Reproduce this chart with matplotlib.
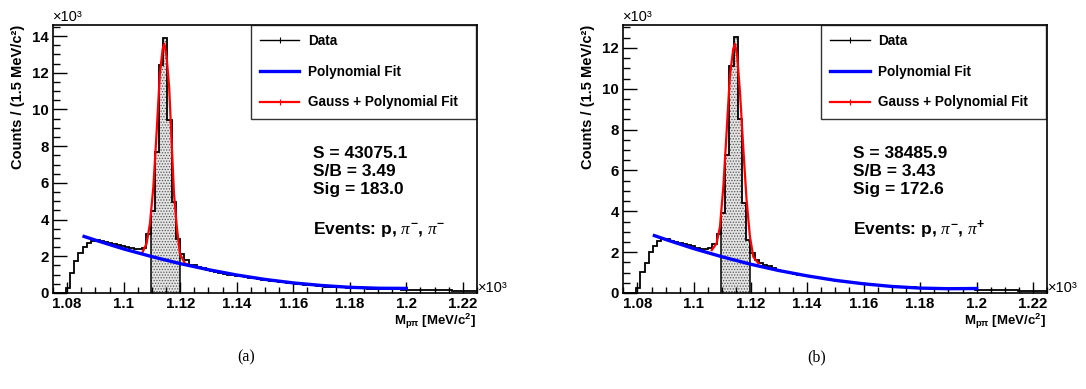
import matplotlib
matplotlib.use("Agg")
import matplotlib.pyplot as plt
from matplotlib.ticker import MultipleLocator, FuncFormatter
from matplotlib.lines import Line2D
import numpy as np

# Histogram binning (x in units of 10^3 MeV/c^2)
x_lo = 1.075
bin_w = 0.0015
n_bins = 100
sig_first, sig_last = 23, 29   # shaded signal bins

# Counts per bin (units of 10^3) -- panel (a): p, pi-, pi-
counts_a = [
    0, 0, 0, 0.25, 1.10, 1.75, 2.20, 2.50, 2.75, 2.85,
    2.90, 2.85, 2.80, 2.72, 2.65, 2.60, 2.55, 2.50, 2.45, 2.42,
    2.40, 2.45, 3.20, 4.45, 7.70, 12.40, 13.90, 9.45, 4.95, 2.95,
    2.15, 1.78, 1.55, 1.50, 1.42, 1.35, 1.28, 1.20, 1.15, 1.10,
    1.05, 1.00, 0.97, 0.93, 0.90, 0.86, 0.83, 0.80, 0.76, 0.73,
    0.70, 0.67, 0.64, 0.60, 0.58, 0.55, 0.52, 0.50, 0.47, 0.45,
    0.43, 0.41, 0.39, 0.37, 0.35, 0.34, 0.32, 0.31, 0.30, 0.29,
    0.28, 0.27, 0.26, 0.25, 0.24, 0.24, 0.23, 0.22, 0.22, 0.21,
    0.20, 0.20, 0.19, 0.19, 0.18, 0.18, 0.17, 0.17, 0.16, 0.16,
    0.15, 0.15, 0.14, 0.14, 0.13, 0.13, 0.12, 0.12, 0.11, 0.11,
]

# panel (b): p, pi-, pi+
counts_b = [
    0, 0, 0, 0.26, 1.04, 1.49, 2.00, 2.28, 2.53, 2.64,
    2.64, 2.56, 2.48, 2.45, 2.40, 2.35, 2.30, 2.22, 2.15, 2.15,
    2.20, 2.40, 2.90, 3.94, 6.78, 11.13, 12.53, 8.54, 4.43, 2.60,
    1.94, 1.61, 1.45, 1.38, 1.30, 1.22, 1.15, 1.10, 1.05, 1.00,
    0.95, 0.90, 0.87, 0.83, 0.80, 0.77, 0.74, 0.70, 0.67, 0.64,
    0.61, 0.58, 0.55, 0.53, 0.50, 0.48, 0.46, 0.44, 0.42, 0.40,
    0.38, 0.36, 0.34, 0.33, 0.31, 0.30, 0.29, 0.28, 0.27, 0.26,
    0.25, 0.24, 0.23, 0.23, 0.22, 0.21, 0.21, 0.20, 0.20, 0.19,
    0.19, 0.18, 0.18, 0.17, 0.17, 0.16, 0.16, 0.15, 0.15, 0.14,
    0.14, 0.13, 0.13, 0.12, 0.12, 0.11, 0.11, 0.10, 0.10, 0.10,
]

# Polynomial (background) fit
poly_x = [1.086, 1.09, 1.10, 1.11, 1.12, 1.13, 1.14, 1.15, 1.16, 1.17, 1.18, 1.19, 1.20]
poly_a = [3.08, 2.88, 2.40, 1.98, 1.60, 1.27, 0.98, 0.74, 0.55, 0.41, 0.31, 0.26, 0.25]
poly_b = [2.81, 2.62, 2.17, 1.77, 1.41, 1.10, 0.84, 0.62, 0.45, 0.32, 0.24, 0.21, 0.22]

# Gauss + polynomial fit
gaus_x_a = [1.1067, 1.1081, 1.1093, 1.1105, 1.1117, 1.1128, 1.1138, 1.1144, 1.1152,
            1.1161, 1.1170, 1.1178, 1.1188, 1.1199, 1.1217, 1.1229]
gaus_y_a = [2.23, 2.69, 3.78, 5.77, 8.86, 11.94, 13.30, 13.58, 12.85,
            11.20, 8.13, 5.41, 3.60, 2.14, 1.60, 1.55]
gaus_x_b = [1.1063, 1.1080, 1.1092, 1.1104, 1.1116, 1.1127, 1.1139, 1.1145, 1.1153,
            1.1163, 1.1174, 1.1186, 1.1198, 1.1210, 1.1228]
gaus_y_b = [2.10, 2.43, 3.25, 5.22, 8.00, 10.60, 11.95, 12.20, 11.60,
            9.80, 7.20, 4.57, 2.76, 1.77, 1.45]

panels = [
    dict(counts=counts_a, poly=poly_a, gx=gaus_x_a, gy=gaus_y_a, ymax=14.6,
         stats=["S = 43075.1", "S/B = 3.49", "Sig = 183.0"],
         events=r"Events: p, $\mathit{\pi}^{-}$, $\mathit{\pi}^{-}$", tag="(a)", text_x=313),
    dict(counts=counts_b, poly=poly_b, gx=gaus_x_b, gy=gaus_y_b, ymax=13.12,
         stats=["S = 38485.9", "S/B = 3.43", "Sig = 172.6"],
         events=r"Events: p, $\mathit{\pi}^{-}$, $\mathit{\pi}^{+}$", tag="(b)", text_x=283),
]

plt.rcParams['font.family'] = ['Liberation Sans', 'DejaVu Sans']
plt.rcParams['mathtext.fontset'] = 'custom'
plt.rcParams['mathtext.rm'] = 'Liberation Sans:bold'
plt.rcParams['mathtext.it'] = 'Liberation Serif:italic'
plt.rcParams['mathtext.bf'] = 'Liberation Sans:bold'
plt.rcParams['mathtext.default'] = 'rm'
plt.rcParams['hatch.linewidth'] = 0.6

W, H = 1086, 389
fig = plt.figure(figsize=(W / 100, H / 100), dpi=100)

edges = x_lo + bin_w * np.arange(n_bins + 1)
ax_left = [53, 623.3]

for i, p in enumerate(panels):
    x0 = ax_left[i]
    ax = fig.add_axes([x0 / W, 96 / H, 424 / W, 268 / H])
    counts = np.array(p['counts'])

    # shaded signal window
    ax.stairs(counts[sig_first:sig_last + 1], edges[sig_first:sig_last + 2], fill=True,
              facecolor='#e4e4e4', edgecolor='#555555', hatch='......', linewidth=0, zorder=1)
    ax.vlines([edges[sig_first], edges[sig_last + 1]], 0,
              [counts[sig_first], counts[sig_last]], color='black', lw=1.1, zorder=2)
    ax.stairs(counts, edges, color='black', lw=1.3, zorder=3)
    ax.plot(p['gx'], p['gy'], color='red', lw=1.6, zorder=4)
    ax.plot(poly_x, p['poly'], color='blue', lw=2.4, zorder=5)

    ax.set_xlim(x_lo, x_lo + n_bins * bin_w)
    ax.set_ylim(0, p['ymax'])
    ax.xaxis.set_major_locator(MultipleLocator(0.02))
    ax.xaxis.set_minor_locator(MultipleLocator(0.005))
    ax.yaxis.set_major_locator(MultipleLocator(2))
    ax.yaxis.set_minor_locator(MultipleLocator(0.5))
    ax.xaxis.set_major_formatter(FuncFormatter(lambda v, pos: f"{v:.2f}".rstrip('0').rstrip('.')))
    ax.yaxis.set_major_formatter(FuncFormatter(lambda v, pos: f"{v:.0f}"))
    ax.tick_params(which='both', direction='in', top=False, right=False)
    ax.tick_params(which='major', axis='y', length=10, width=1)
    ax.tick_params(which='minor', axis='y', length=5, width=1)
    ax.tick_params(which='major', axis='x', length=8, width=1)
    ax.tick_params(which='minor', axis='x', length=4, width=1)
    ax.tick_params(labelsize=10.8, pad=3)
    for lab in ax.get_xticklabels() + ax.get_yticklabels():
        lab.set_fontweight('bold')
    for s in ax.spines.values():
        s.set_linewidth(1.2)

    handles = [
        Line2D([], [], color='black', lw=1, marker='|', markersize=4, markeredgewidth=0.8),
        Line2D([], [], color='blue', lw=2.4),
        Line2D([], [], color='red', lw=1.6, marker='|', markersize=4, markeredgewidth=0.8),
    ]
    leg = ax.legend(handles, ["Data", "Polynomial Fit", "Gauss + Polynomial Fit"],
                    loc='upper left', bbox_to_anchor=((250.7 - 53) / 424, 0, (476 - 250.7) / 424, 1),
                    mode='expand', borderaxespad=0, fancybox=False, frameon=True,
                    prop={'weight': 'bold', 'size': 9.8}, labelspacing=1.22, borderpad=0.68,
                    handlelength=2.9, handletextpad=0.62)
    leg.get_frame().set_edgecolor('black')
    leg.get_frame().set_linewidth(1.0)

    def fx(px):
        return (px + x0 - 53) / W

    tx = p['text_x']
    fig.text(fx(tx), 1 - 153 / H, p['stats'][0], fontsize=12.5, fontweight='bold', va='center')
    fig.text(fx(tx), 1 - 171.5 / H, p['stats'][1], fontsize=12.5, fontweight='bold', va='center')
    fig.text(fx(tx), 1 - 190 / H, p['stats'][2], fontsize=12.5, fontweight='bold', va='center')
    fig.text(fx(tx), 1 - 230 / H, p['events'], fontsize=12.5, fontweight='bold', va='center')

    fig.text(fx(53), 1 - 17 / H, "×10³", fontsize=10.5, va='center')
    fig.text(fx(478), 1 - 288 / H, "×10³", fontsize=10.5, va='center')
    fig.text(fx(476), 1 - 321 / H, r"M$_{p\pi}$ [MeV/c$^{2}$]", fontsize=9.5,
             fontweight='bold', ha='right', va='center')
    fig.text(fx(18), 1 - 25 / H, "Counts / (1.5 MeV/c²)", fontsize=10.5, fontweight='bold',
             rotation=90, ha='center', va='top')
    fig.text(fx(246), 1 - 357 / H, p['tag'], fontsize=11.5, family='Liberation Serif',
             ha='center', va='center')

fig.savefig("out.png", dpi=100)
